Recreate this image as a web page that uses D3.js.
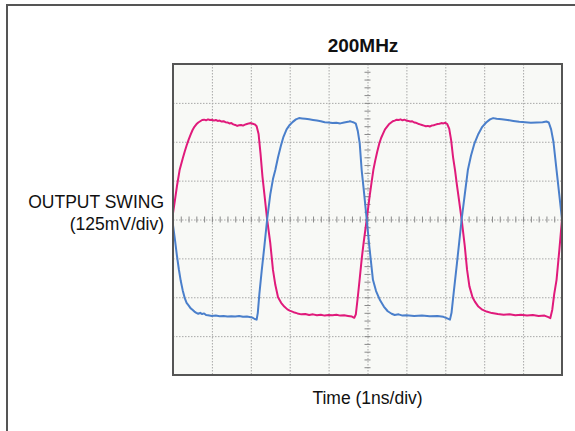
<!DOCTYPE html>
<html>
<head>
<meta charset="utf-8">
<script src="https://cdn.jsdelivr.net/npm/d3@7"></script>
<style>
body { margin: 0; background: #fff; }
text { font-family: "Liberation Sans", Arial, sans-serif; fill: #111; }
</style>
</head>
<body>
<svg id="scope" width="575" height="431"></svg>
<script>
// time in ns (1ns/div), level in mV (125mV/div)
var timeTicks = [0, 1, 2, 3, 4, 5, 6, 7, 8, 9, 10];
var levelTicks = [-500, -375, -250, -125, 0, 125, 250, 375, 500];

var pinkT = [0.00, 0.05, 0.10, 0.17, 0.25, 0.30, 0.35, 0.40, 0.45, 0.50, 0.55, 0.60, 0.65, 0.70, 0.75, 0.80, 0.85, 0.90, 0.95, 1.00,
	1.05, 1.10, 1.15, 1.20, 1.25, 1.30, 1.35, 1.40, 1.45, 1.50, 1.55, 1.60, 1.65, 1.70, 1.75, 1.80, 1.85, 1.90, 1.95, 2.00,
	2.05, 2.10, 2.15, 2.20, 2.25, 2.30, 2.35, 2.42, 2.50, 2.57, 2.63, 2.70, 2.78, 2.86, 2.94, 3.00, 3.10, 3.20, 3.30, 3.40,
	3.50, 3.60, 3.70, 3.80, 3.90, 4.00, 4.10, 4.20, 4.30, 4.40, 4.50, 4.60, 4.66, 4.70, 4.75, 4.80, 4.85, 4.90, 4.98, 5.05,
	5.10, 5.15, 5.20, 5.25, 5.30, 5.35, 5.40, 5.45, 5.50, 5.55, 5.60, 5.65, 5.70, 5.75, 5.80, 5.85, 5.90, 5.95, 6.00, 6.05,
	6.10, 6.15, 6.20, 6.25, 6.30, 6.35, 6.40, 6.45, 6.50, 6.55, 6.60, 6.65, 6.70, 6.75, 6.80, 6.85, 6.90, 6.95, 7.00, 7.05,
	7.10, 7.15, 7.20, 7.25, 7.30, 7.35, 7.42, 7.50, 7.56, 7.62, 7.70, 7.76, 7.85, 7.95, 8.06, 8.20, 8.35, 8.50, 8.65, 8.80,
	8.95, 9.10, 9.25, 9.40, 9.55, 9.65, 9.70, 9.75, 9.80, 9.86, 9.93, 10.00];
var pinkV = [20, 62, 106, 159, 196, 218, 238, 256, 272, 287, 298, 306, 312, 316, 320, 321, 319, 322, 320, 321,
	318, 320, 317, 318, 315, 316, 313, 312, 309, 310, 306, 304, 301, 303, 304, 302, 305, 307, 309, 310,
	308, 306, 300, 275, 212, 138, 81, 0, -75, -162, -210, -250, -268, -280, -289, -293, -298, -302, -305, -304,
	-307, -305, -308, -306, -309, -307, -308, -306, -309, -308, -310, -312, -316, -305, -250, -190, -128, -75, 0, 70,
	115, 159, 190, 218, 243, 262, 276, 290, 298, 306, 311, 316, 318, 321, 320, 322, 319, 321, 318, 317,
	315, 316, 312, 311, 308, 306, 304, 302, 300, 301, 299, 302, 303, 305, 307, 308, 310, 309, 311, 307,
	292, 255, 200, 159, 110, 65, 0, -85, -162, -215, -250, -264, -280, -290, -296, -301, -304, -306, -305, -308,
	-306, -309, -307, -310, -309, -314, -317, -290, -240, -194, -100, 0];

var blueT = [0.00, 0.05, 0.10, 0.15, 0.20, 0.25, 0.30, 0.35, 0.40, 0.45, 0.50, 0.55, 0.60, 0.65, 0.70, 0.75, 0.80, 0.85, 0.90, 1.00,
	1.10, 1.20, 1.30, 1.40, 1.50, 1.60, 1.70, 1.80, 1.90, 2.00, 2.05, 2.10, 2.15, 2.18, 2.22, 2.28, 2.35, 2.42, 2.50, 2.57,
	2.63, 2.70, 2.78, 2.84, 2.92, 3.00, 3.08, 3.16, 3.24, 3.32, 3.40, 3.50, 3.60, 3.70, 3.80, 3.90, 4.00, 4.10, 4.20, 4.30,
	4.40, 4.50, 4.55, 4.60, 4.65, 4.70, 4.75, 4.80, 4.85, 4.90, 4.98, 5.05, 5.14, 5.22, 5.32, 5.42, 5.52, 5.62, 5.70, 5.80,
	5.90, 6.00, 6.20, 6.40, 6.60, 6.80, 6.95, 7.05, 7.12, 7.16, 7.22, 7.30, 7.36, 7.42, 7.50, 7.58, 7.66, 7.75, 7.85, 7.95,
	8.05, 8.15, 8.23, 8.32, 8.45, 8.60, 8.75, 8.90, 9.05, 9.20, 9.35, 9.50, 9.60, 9.66, 9.72, 9.78, 9.86, 9.93, 10.00];
var blueV = [-18, -65, -115, -160, -198, -228, -252, -268, -276, -285, -290, -296, -300, -303, -300, -304, -302, -307, -308, -310,
	-309, -311, -310, -312, -311, -312, -310, -313, -312, -314, -316, -320, -322, -300, -240, -165, -85, 0, 80, 130,
	159, 200, 240, 266, 290, 304, 314, 322, 326, 325, 324, 322, 320, 318, 316, 313, 312, 310, 311, 309,
	312, 314, 316, 314, 312, 308, 285, 245, 159, 100, 0, -90, -194, -230, -259, -280, -295, -303, -307, -305,
	-309, -308, -310, -309, -311, -310, -313, -318, -322, -300, -230, -140, -70, 0, 80, 159, 205, 245, 275, 298,
	312, 322, 326, 324, 322, 320, 317, 314, 313, 311, 312, 313, 315, 312, 290, 250, 159, 80, 0];

var svg = d3.select('#scope'),
	margin = {top: 64, left: 173},
	width = 389,
	height = 311;

// outer frame (top and left edges only show)
svg.append("line").attr("x1", 6).attr("y1", 5).attr("x2", 575).attr("y2", 5)
	.attr("stroke", "#555").attr("stroke-width", 2);
svg.append("line").attr("x1", 7).attr("y1", 4).attr("x2", 7).attr("y2", 431)
	.attr("stroke", "#555").attr("stroke-width", 2);

var chart = svg.append("g")
	.attr("transform", "translate(" + margin.left + "," + margin.top + ")");

var x = d3.scaleLinear().domain([0, 10]).range([0, width]);
var y = d3.scaleLinear().domain([-500, 500]).range([height, 0]);

chart.append("rect")
	.attr("width", width).attr("height", height)
	.attr("fill", "#f8f9f6");

// dotted grid
chart.append("g")
	.attr("class", "grid")
	.call(d3.axisBottom(x).tickValues(timeTicks).tickSize(height).tickFormat(""));
chart.append("g")
	.attr("class", "grid")
	.call(d3.axisLeft(y).tickValues(levelTicks).tickSize(-width).tickFormat(""));
chart.selectAll(".grid .domain").remove();
chart.selectAll(".grid line")
	.attr("stroke", "#a8a8a8")
	.attr("stroke-dasharray", "1.5,1.5");

// minor ticks along the centre lines
chart.append("g")
	.attr("transform", "translate(0," + (y(0) - 3) + ")")
	.call(d3.axisBottom(x).tickValues(d3.range(0, 10.01, 0.2)).tickSize(6).tickFormat(""))
	.call(function(g) { g.select(".domain").remove(); })
	.selectAll("line").attr("stroke", "#8a8a8a");
chart.append("g")
	.attr("transform", "translate(" + (x(5) + 3) + ",0)")
	.call(d3.axisLeft(y).tickValues(d3.range(-500, 501, 25)).tickSize(6).tickFormat(""))
	.call(function(g) { g.select(".domain").remove(); })
	.selectAll("line").attr("stroke", "#8a8a8a");

// traces
var line = d3.line()
	.x(function(d) { return x(d[0]); })
	.y(function(d) { return y(d[1]); });

chart.append("path")
	.datum(pinkT.map(function(t, i) { return [t, pinkV[i]]; }))
	.attr("d", line)
	.attr("fill", "none")
	.attr("stroke", "#e01a7b")
	.attr("stroke-width", 2)
	.attr("stroke-linejoin", "round");

chart.append("path")
	.datum(blueT.map(function(t, i) { return [t, blueV[i]]; }))
	.attr("d", line)
	.attr("fill", "none")
	.attr("stroke", "#4a7fcb")
	.attr("stroke-width", 2)
	.attr("stroke-linejoin", "round");

chart.append("rect")
	.attr("width", width).attr("height", height)
	.attr("fill", "none")
	.attr("stroke", "#555")
	.attr("stroke-width", 2);

// labels
svg.append("text")
	.attr("x", 363).attr("y", 52)
	.attr("text-anchor", "middle")
	.style("font-size", "19px").style("font-weight", "bold")
	.text("200MHz");

svg.append("text")
	.attr("x", margin.left + width / 2).attr("y", 404)
	.attr("text-anchor", "middle")
	.style("font-size", "17.5px")
	.text("Time (1ns/div)");

svg.append("text")
	.attr("x", 164).attr("y", 208)
	.attr("text-anchor", "end")
	.style("font-size", "17.5px")
	.text("OUTPUT SWING");
svg.append("text")
	.attr("x", 164).attr("y", 230)
	.attr("text-anchor", "end")
	.style("font-size", "17.5px")
	.text("(125mV/div)");
</script>
</body>
</html>
